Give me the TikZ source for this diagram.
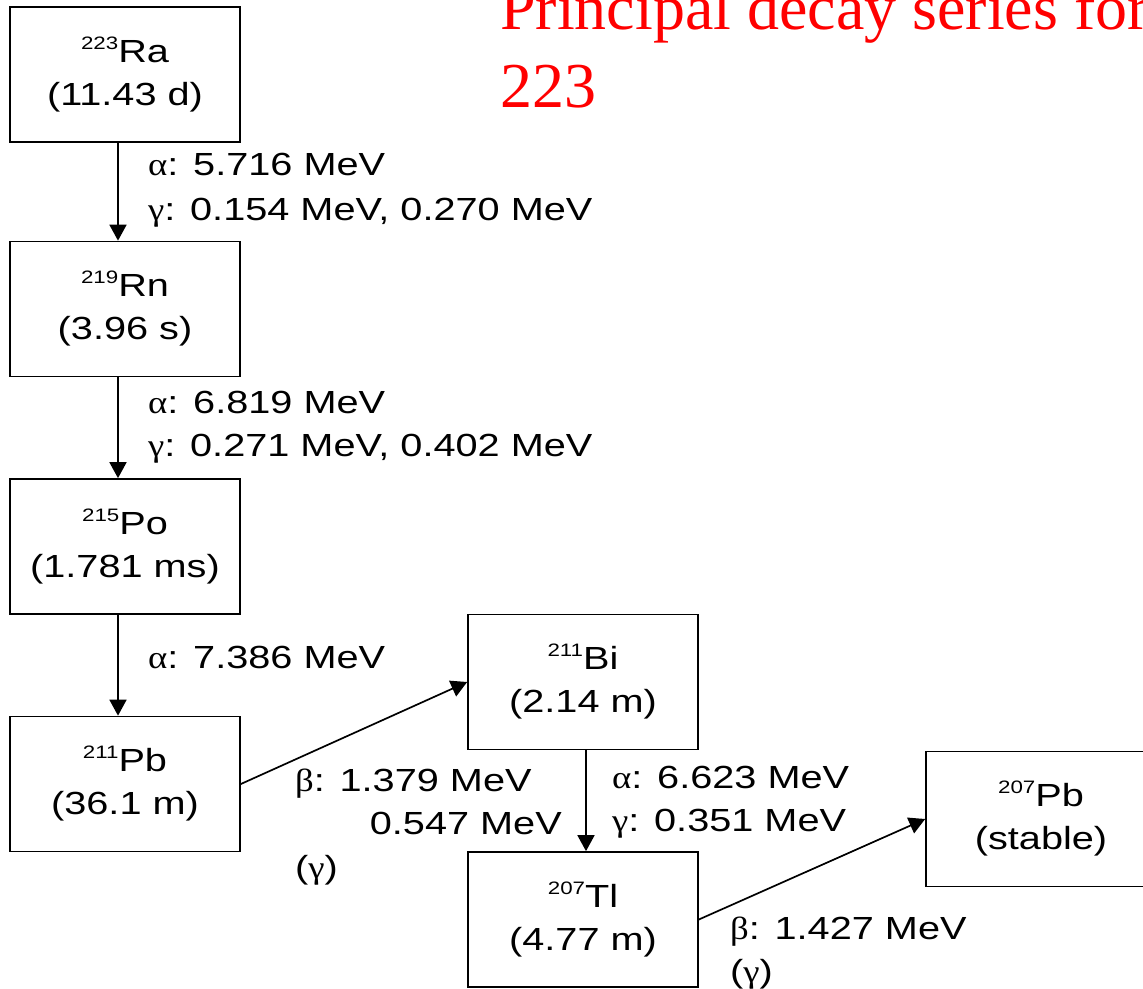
\documentclass[tikz,border=0pt]{standalone}
\usepackage{fontspec}
\setmainfont{Liberation Sans}[FakeStretch=1.24]
\newfontfamily\serifrm{Liberation Serif}
\newfontfamily\greekrm{Liberation Serif}[FakeStretch=1.15]
\usetikzlibrary{arrows.meta}
\newcommand{\gk}[1]{{\greekrm #1}}
\newcommand{\isotope}[2]{\raisebox{13pt}{\fontsize{18}{18}\selectfont #1}#2}
\begin{document}
\begin{tikzpicture}[x=1pt,y=-1pt,
  isobox/.style={draw, line width=1.7pt, minimum width=230pt, minimum height=135pt, align=center, inner sep=0pt, font=\fontsize{32}{43}\selectfont},
  lbl/.style={anchor=base west, inner sep=0pt, font=\fontsize{32}{38}\selectfont},
  lble/.style={anchor=base east, inner sep=0pt, font=\fontsize{32}{38}\selectfont},
  arr/.style={line width=1.7pt, -{Triangle[length=16pt,width=17pt]}},
  ttl/.style={anchor=base west, inner sep=0pt, text=red, font=\serifrm\fontsize{64}{64}\selectfont}]
\useasboundingbox (0,0) rectangle (1143,988);
\clip (0,0) rectangle (1143,988);
\fill[white] (0,0) rectangle (1143,988);
% title
\node[ttl] (t1) at (500,29) {Principal decay series for};
\node[ttl] (t2) at (500,107) {223};
% boxes
\node[isobox] (ra) at (125,74.5) {\isotope{223}{Ra}\\(11.43 d)};
\node[isobox] (rn) at (125,309) {\isotope{219}{Rn}\\(3.96 s)};
\node[isobox] (po) at (125,546.5) {\isotope{215}{Po}\\(1.781 ms)};
\node[isobox] (pb) at (125,784) {\isotope{211}{Pb}\\(36.1 m)};
\node[isobox] (bi) at (583,682) {\isotope{211}{Bi}\\(2.14 m)};
\node[isobox] (tl) at (583,919.5) {\isotope{207}{Tl}\\(4.77 m)};
\node[isobox] (pbs) at (1041,819) {\isotope{207}{Pb}\\(stable)};
% arrows
\draw[arr] ([xshift=-7pt]ra.south) -- ([xshift=-7pt]rn.north);
\draw[arr] ([xshift=-7pt]rn.south) -- ([xshift=-7pt]po.north);
\draw[arr] ([xshift=-7pt]po.south) -- ([xshift=-7pt]pb.north);
\draw[arr] (pb.east) -- (bi.west);
\draw[arr] ([xshift=3pt]bi.south) -- ([xshift=3pt]tl.north);
\draw[arr] (tl.east) -- (pbs.west);
% labels
\node[lbl] (l1a) at (148,175) {\gk{α}: 5.716 MeV};
\node[lbl] (l1b) at (148,220) {\gk{γ}: 0.154 MeV, 0.270 MeV};
\node[lbl] (l2a) at (148,413) {\gk{α}: 6.819 MeV};
\node[lbl] (l2b) at (148,456) {\gk{γ}: 0.271 MeV, 0.402 MeV};
\node[lbl] (l3a) at (148,668) {\gk{α}: 7.386 MeV};
\node[lbl] (l4a) at (295,791) {\gk{β}: 1.379 MeV};
\node[lble] (l4b) at (562,834) {0.547 MeV};
\node[lbl] (l4c) at (295,878) {(\gk{γ})};
\node[lbl] (l5a) at (612,788) {\gk{α}: 6.623 MeV};
\node[lbl] (l5b) at (612,831) {\gk{γ}: 0.351 MeV};
\node[lbl] (l6a) at (730,939) {\gk{β}: 1.427 MeV};
\node[lbl] (l6b) at (730,982) {(\gk{γ})};
\end{tikzpicture}
\end{document}
